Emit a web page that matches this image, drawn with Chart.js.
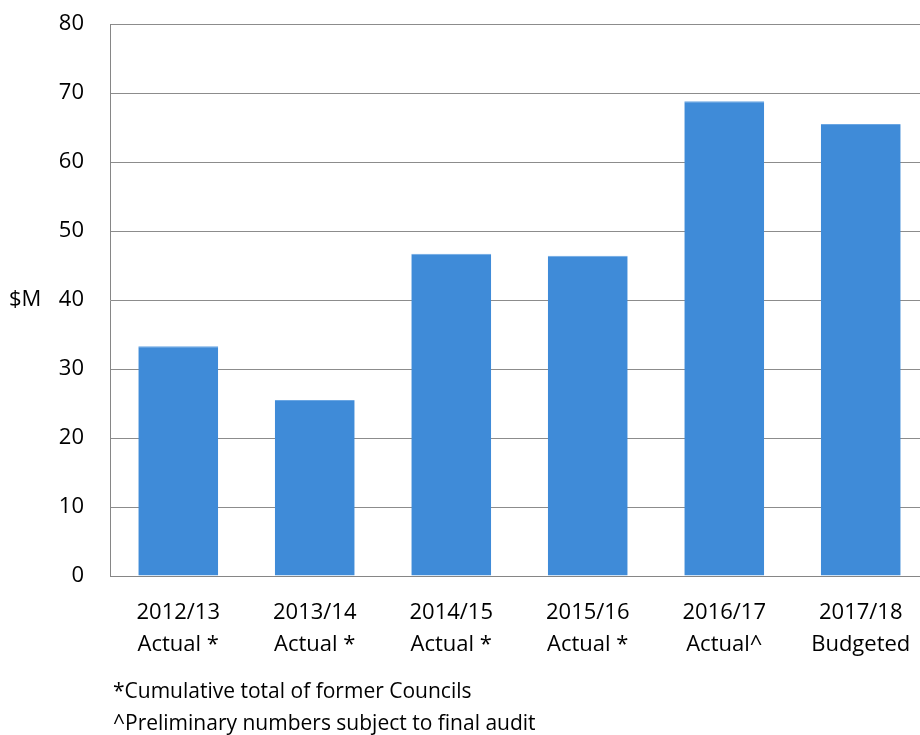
<!DOCTYPE html>
<html>
<head>
<meta charset="utf-8">
<script src="https://cdn.jsdelivr.net/npm/chart.js@4"></script>
<style>
  html, body { margin: 0; padding: 0; background: #fff; overflow: hidden; }
  #wrap { position: relative; width: 935px; height: 735px; }
  .note { position: absolute; left: 113px; font: 21px "Open Sans", sans-serif; color: #000; white-space: nowrap; }
</style>
</head>
<body>
<div id="wrap">
  <canvas id="capexChart" width="935" height="735"></canvas>
  <div class="note" style="top:676px">*Cumulative total of former Councils</div>
  <div class="note" style="top:708px">^Preliminary numbers subject to final audit</div>
</div>
<script>
// === Données ===
const years = ['2012/13', '2013/14', '2014/15', '2015/16', '2016/17', '2017/18'];
const kinds = ['Actual *', 'Actual *', 'Actual *', 'Actual *', 'Actual^', 'Budgeted'];
const values = [33.3, 25.5, 46.7, 46.4, 68.8, 65.5];
const yTicks = [0, 10, 20, 30, 40, 50, 60, 70, 80];

const labels = years.map((y, i) => [y, kinds[i]]);

// "$M" écrit à l'horizontale à gauche de l'axe
const unitLabel = {
  id: 'unitLabel',
  afterDraw(chart) {
    const c = chart.ctx;
    const y = chart.scales.y.getPixelForValue(40);
    c.save();
    c.font = '22px "Open Sans", sans-serif';
    c.fillStyle = '#000';
    c.textBaseline = 'middle';
    c.fillText('$M', 9, y);
    c.restore();
  }
};

const ctx = document.getElementById('capexChart').getContext('2d');
new Chart(ctx, {
  type: 'bar',
  data: {
    labels: labels,
    datasets: [{
      data: values,
      backgroundColor: '#3F8BD8',
      borderColor: '#6aa6e3',
      borderWidth: { top: 1, left: 0, right: 0, bottom: 0 },
      categoryPercentage: 1,
      barPercentage: 0.585
    }]
  },
  options: {
    responsive: false,
    animation: false,
    layout: { padding: { top: 24, right: 6, bottom: 59, left: 0 } },
    plugins: {
      legend: { display: false },
      tooltip: { enabled: false }
    },
    scales: {
      x: {
        afterFit: s => { s.height = 100; },
        grid: { display: false, drawTicks: false },
        border: { color: '#868686', width: 1 },
        ticks: {
          color: '#000',
          padding: 21,
          maxRotation: 0,
          font: { family: 'Open Sans', size: 22, lineHeight: 1.45 }
        }
      },
      y: {
        min: 0,
        max: 80,
        afterFit: s => { s.width = 110; },
        afterBuildTicks: s => { s.ticks = yTicks.map(v => ({ value: v })); },
        grid: { color: '#8c8c8c', lineWidth: 1, drawTicks: true, tickLength: 26, tickColor: 'rgba(0,0,0,0)' },
        border: { color: '#868686', width: 1 },
        ticks: {
          color: '#000',
          padding: 0,
          font: { family: 'Open Sans', size: 22 }
        }
      }
    }
  },
  plugins: [unitLabel]
});
</script>
</body>
</html>
